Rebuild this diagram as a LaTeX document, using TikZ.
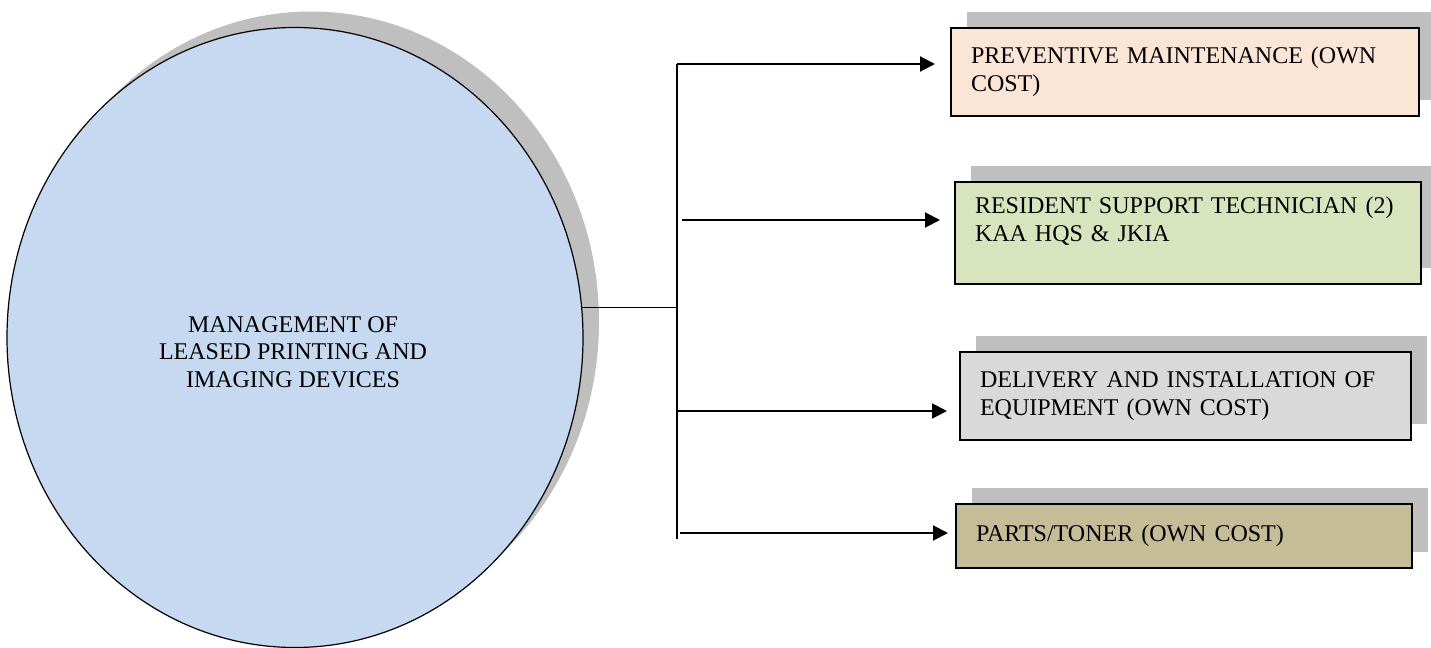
\documentclass[tikz,border=0pt]{standalone}
\usepackage{fontspec}
\setmainfont{Liberation Serif}
\usepackage{tikz}
\usetikzlibrary{arrows.meta,shapes.geometric,shadows}
\definecolor{hubblue}{HTML}{C6D9F1}
\definecolor{shadegray}{HTML}{BFBFBF}
\definecolor{peach}{HTML}{FBE5D6}
\definecolor{olive}{HTML}{D7E4BD}
\definecolor{lightgray}{HTML}{D9D9D9}
\definecolor{tan}{HTML}{C4BD97}

\begin{document}
\begin{tikzpicture}[x=0.5pt,y=-0.5pt,font=\fontsize{12}{13.8}\selectfont,
  boxshadow/.style={general shadow={fill=shadegray,draw=none,shadow xshift=8pt,shadow yshift=8pt}},
  hub/.style={ellipse,draw,line width=0.6pt,fill=hubblue,minimum width=288pt,minimum height=310pt,inner sep=0pt,outer sep=0pt,boxshadow},
  item/.style={draw,line width=1pt,boxshadow,anchor=north west,align=left,inner xsep=10pt,outer sep=0pt},
  flow/.style={line width=1pt,-{Triangle[length=7.5pt,width=7.5pt]}}]
\useasboundingbox (0,0) rectangle (1431,648);
% centre
\node[hub] (mgmt) at (295,337.5) {};
\node[align=center] (mgmttext) at (293,352) {MANAGEMENT OF\\LEASED PRINTING AND\\IMAGING DEVICES};
% services
\node[item,fill=peach,text width=214pt,minimum height=44pt] (p1) at (951,28) {PREVENTIVE MAINTENANCE (OWN\\COST)};
\node[item,fill=olive,text width=213pt,minimum height=51pt] (p2) at (955,182) {RESIDENT SUPPORT TECHNICIAN (2)\\KAA HQS \& JKIA\\\mbox{}};
\node[item,fill=lightgray,text width=205.5pt,minimum height=44pt] (p3) at (960,352) {DELIVERY AND INSTALLATION OF\\EQUIPMENT (OWN COST)};
\node[item,fill=tan,text width=208pt,minimum height=32pt] (p4) at (956,504) {PARTS/TONER (OWN COST)};
% connectors
\coordinate (t1) at (677,64);
\coordinate (t2) at (677,539);
\coordinate (b2) at (682,220);
\coordinate (b3) at (678,411);
\coordinate (b4) at (680,533);
\draw[line width=0.7pt] (mgmt.6) -- (mgmt.6 -| t1);
\draw[line width=0.9pt] (t1) -- (t2);
\draw[flow,shorten >=8pt] (t1) -- (t1 -| p1.west);
\draw[flow,shorten >=7.5pt] (b2) -- (b2 -| p2.west);
\draw[flow,shorten >=6.5pt] (b3) -- (b3 -| p3.west);
\draw[flow,shorten >=4pt] (b4) -- (b4 -| p4.west);
\end{tikzpicture}
\end{document}
